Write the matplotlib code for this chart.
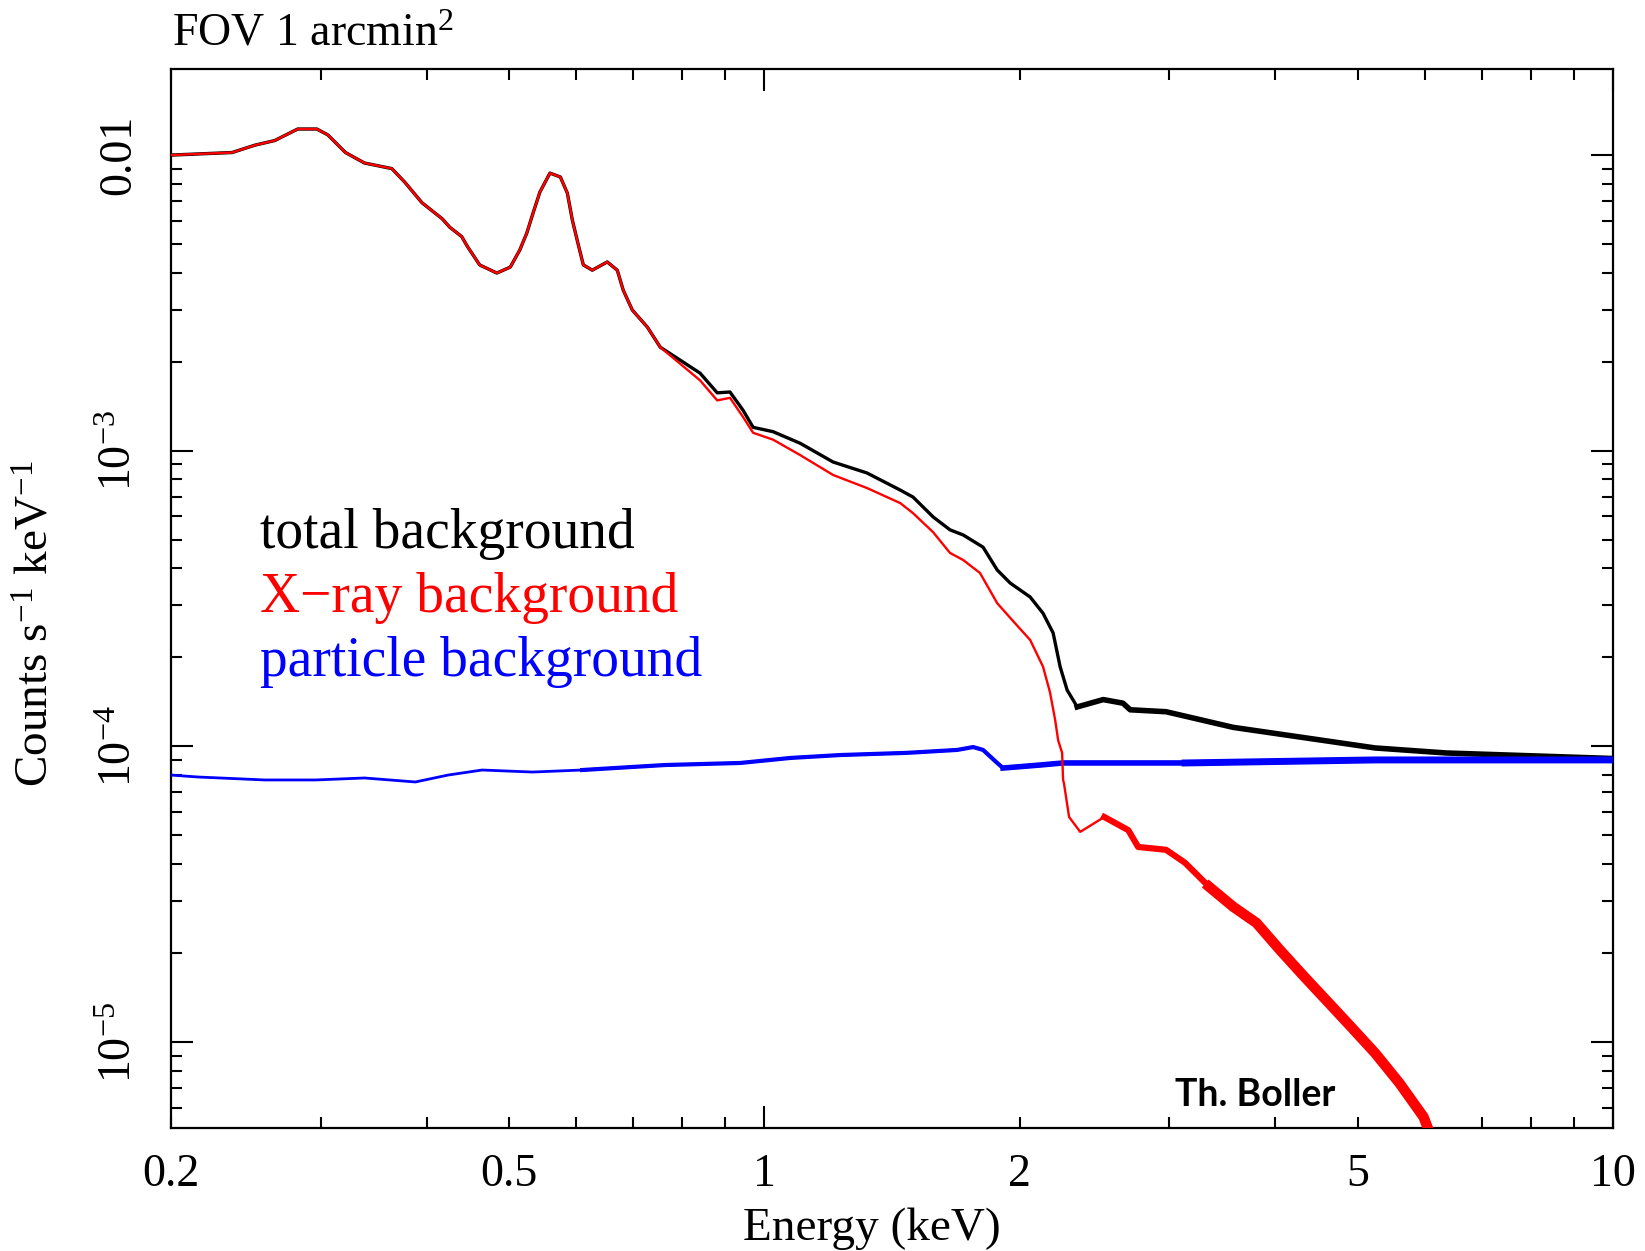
#!/usr/bin/env python3
"""
plot.py - eROSITA-like background spectrum: total, X-ray and particle background
"""

import matplotlib
matplotlib.use('Agg')
import matplotlib.pyplot as plt
from matplotlib.ticker import FixedLocator, FuncFormatter, NullFormatter

plt.rcParams['font.family'] = ['Liberation Serif', 'DejaVu Serif']
plt.rcParams['mathtext.fontset'] = 'custom'
plt.rcParams['mathtext.rm'] = 'Liberation Serif'
plt.rcParams['mathtext.default'] = 'regular'

# --- data (energy in keV, counts s^-1 keV^-1) ---
# total background
total_e = [0.200, 0.236, 0.251, 0.265, 0.282, 0.297, 0.306, 0.321, 0.338, 0.364,
           0.377, 0.395, 0.417, 0.426, 0.440, 0.447, 0.462, 0.484, 0.502, 0.515,
           0.525, 0.534, 0.544, 0.559, 0.575, 0.586, 0.594, 0.603, 0.612, 0.627,
           0.653, 0.671, 0.682, 0.699, 0.728, 0.754, 0.840, 0.880, 0.911, 0.944,
           0.970, 1.024, 1.102, 1.205, 1.321, 1.446, 1.497, 1.581, 1.655, 1.715,
           1.810, 1.881, 1.948, 2.057, 2.130, 2.189, 2.231, 2.274, 2.337, 2.508,
           2.646, 2.698, 2.974, 3.567, 4.330, 5.243, 6.360, 10.0]
total_v = [1.00e-2, 1.02e-2, 1.08e-2, 1.12e-2, 1.225e-2, 1.225e-2, 1.17e-2, 1.02e-2, 9.4e-3, 9.0e-3,
           8.1e-3, 6.9e-3, 6.1e-3, 5.7e-3, 5.3e-3, 4.9e-3, 4.25e-3, 3.99e-3, 4.18e-3, 4.77e-3,
           5.45e-3, 6.37e-3, 7.50e-3, 8.69e-3, 8.43e-3, 7.44e-3, 6.03e-3, 5.04e-3, 4.25e-3, 4.08e-3,
           4.35e-3, 4.08e-3, 3.49e-3, 2.99e-3, 2.62e-3, 2.24e-3, 1.83e-3, 1.57e-3, 1.58e-3, 1.37e-3,
           1.20e-3, 1.16e-3, 1.06e-3, 9.16e-4, 8.41e-4, 7.36e-4, 6.97e-4, 5.97e-4, 5.40e-4, 5.19e-4,
           4.72e-4, 3.95e-4, 3.57e-4, 3.20e-4, 2.82e-4, 2.42e-4, 1.86e-4, 1.55e-4, 1.36e-4, 1.44e-4,
           1.40e-4, 1.33e-4, 1.31e-4, 1.16e-4, 1.07e-4, 9.88e-5, 9.50e-5, 9.10e-5]

# X-ray background
xray_e = [0.200, 0.236, 0.251, 0.265, 0.282, 0.297, 0.306, 0.321, 0.338, 0.364,
          0.377, 0.395, 0.417, 0.426, 0.440, 0.447, 0.462, 0.484, 0.502, 0.515,
          0.525, 0.534, 0.544, 0.559, 0.575, 0.586, 0.594, 0.603, 0.612, 0.627,
          0.653, 0.671, 0.682, 0.699, 0.728, 0.754, 0.840, 0.880, 0.911, 0.944,
          0.970, 1.024, 1.102, 1.205, 1.321, 1.446, 1.497, 1.581, 1.655, 1.715,
          1.795, 1.881, 1.960, 2.057, 2.130, 2.171, 2.201, 2.219, 2.243, 2.249,
          2.254, 2.286, 2.356, 2.515, 2.684, 2.757, 2.974, 3.131, 3.343, 3.567,
          3.800, 4.050, 4.330, 4.620, 4.920, 5.243, 5.600, 5.980, 6.250]
xray_v = [1.00e-2, 1.02e-2, 1.08e-2, 1.12e-2, 1.225e-2, 1.225e-2, 1.17e-2, 1.02e-2, 9.4e-3, 9.0e-3,
          8.1e-3, 6.9e-3, 6.1e-3, 5.7e-3, 5.3e-3, 4.9e-3, 4.25e-3, 3.99e-3, 4.18e-3, 4.77e-3,
          5.45e-3, 6.37e-3, 7.50e-3, 8.69e-3, 8.43e-3, 7.44e-3, 6.03e-3, 5.04e-3, 4.25e-3, 4.08e-3,
          4.35e-3, 4.08e-3, 3.49e-3, 2.99e-3, 2.62e-3, 2.24e-3, 1.73e-3, 1.48e-3, 1.51e-3, 1.30e-3,
          1.15e-3, 1.09e-3, 9.67e-4, 8.28e-4, 7.48e-4, 6.65e-4, 6.15e-4, 5.30e-4, 4.51e-4, 4.27e-4,
          3.86e-4, 3.05e-4, 2.67e-4, 2.29e-4, 1.86e-4, 1.52e-4, 1.23e-4, 1.05e-4, 9.51e-5, 7.70e-5,
          7.52e-5, 5.77e-5, 5.14e-5, 5.77e-5, 5.21e-5, 4.57e-5, 4.47e-5, 4.04e-5, 3.35e-5, 2.87e-5,
          2.53e-5, 2.05e-5, 1.66e-5, 1.36e-5, 1.12e-5, 9.18e-6, 7.27e-6, 5.58e-6, 4.00e-6]

# particle background
part_e = [0.200, 0.215, 0.258, 0.296, 0.338, 0.388, 0.424, 0.465, 0.533, 0.610,
          0.699, 0.764, 0.937, 1.073, 1.229, 1.473, 1.688, 1.762, 1.810, 1.881,
          1.911, 2.113, 2.249, 2.698, 3.131, 5.243, 10.0]
part_v = [8.00e-5, 7.88e-5, 7.70e-5, 7.70e-5, 7.82e-5, 7.58e-5, 8.00e-5, 8.32e-5, 8.19e-5, 8.32e-5,
          8.52e-5, 8.65e-5, 8.79e-5, 9.14e-5, 9.35e-5, 9.51e-5, 9.73e-5, 9.95e-5, 9.73e-5, 8.79e-5,
          8.45e-5, 8.65e-5, 8.79e-5, 8.79e-5, 8.79e-5, 9.00e-5, 9.00e-5]

x_labels = {0.2: '0.2', 0.5: '0.5', 1: '1', 2: '2', 5: '5', 10: '10'}
y_ticks = [1e-5, 1e-4, 1e-3, 1e-2]
y_labels = ['$10^{-5}$', '$10^{-4}$', '$10^{-3}$', '0.01']


def plot_from(e, v, start, **kw):
    # overplot the part of a spectrum above `start` keV (noisy part looks thicker)
    idx = [i for i, x in enumerate(e) if x >= start]
    ax.plot([e[i] for i in idx], [v[i] for i in idx], **kw)


fig = plt.figure(figsize=(16.45, 12.51), dpi=100)
ax = fig.add_axes([0.1040, 0.0983, 0.8766, 0.8465])

# total background (under the others)
ax.plot(total_e, total_v, color='black', lw=2.4, zorder=2)
plot_from(total_e, total_v, 2.3, color='black', lw=4.0, zorder=2)

# particle background (drawn over the total one at high energy)
ax.plot(part_e, part_v, color='blue', lw=2.0, solid_joinstyle='round', zorder=3)
plot_from(part_e, part_v, 0.6, color='blue', lw=3.0, zorder=3)
plot_from(part_e, part_v, 1.9, color='blue', lw=4.0, zorder=3)
plot_from(part_e, part_v, 3.1, color='blue', lw=5.0, zorder=3)

# X-ray background on top
ax.plot(xray_e, xray_v, color='red', lw=1.7, zorder=4)
plot_from(xray_e, xray_v, 2.5, color='red', lw=4.5, zorder=4)
plot_from(xray_e, xray_v, 3.3, color='red', lw=7.5, zorder=4)

ax.set_xscale('log')
ax.set_yscale('log')
ax.set_xlim(0.2, 10)
ax.set_ylim(5.12e-6, 1.954e-2)

# x: long ticks at decades, short ones in between; labels at 0.2, 0.5, 1, 2, 5, 10
ax.xaxis.set_major_locator(FixedLocator([1, 10]))
ax.xaxis.set_minor_locator(FixedLocator([0.2, 0.3, 0.4, 0.5, 0.6, 0.7, 0.8, 0.9,
                                         2, 3, 4, 5, 6, 7, 8, 9]))
fmt = FuncFormatter(lambda v, p: x_labels.get(round(v, 3), ''))
ax.xaxis.set_major_formatter(fmt)
ax.xaxis.set_minor_formatter(fmt)

ax.yaxis.set_major_locator(FixedLocator(y_ticks))
ax.set_yticklabels(y_labels, rotation=90, va='center')
ax.yaxis.set_minor_locator(FixedLocator([m * d for d in [1e-6, 1e-5, 1e-4, 1e-3, 1e-2]
                                         for m in range(2, 10)]))
ax.yaxis.set_minor_formatter(NullFormatter())

ax.tick_params(which='both', direction='in', top=True, right=True, width=1.5,
               labelsize=33, color='black')
ax.tick_params(which='major', length=16)
ax.tick_params(which='minor', length=8)
ax.tick_params(axis='x', which='both', pad=18)
ax.tick_params(axis='y', which='both', pad=22)
for s in ax.spines.values():
    s.set_linewidth(1.6)

ax.set_xlabel('Energy (keV)', fontsize=34)
ax.xaxis.set_label_coords(0.486, -0.0746)
ax.xaxis.label.set_va('top')
ax.set_ylabel('Counts s$^{-1}$ keV$^{-1}$', fontsize=34)
ax.yaxis.set_label_coords(-0.0784, 0.476)

fig.text(0.1045, 0.964, 'FOV 1 arcmin$^{2}$', fontsize=33, va='baseline')

fig.text(0.158, 0.5620, 'total background', fontsize=40, color='black', va='baseline')
fig.text(0.158, 0.5108, 'X\u2212ray background', fontsize=40, color='red', va='baseline')
fig.text(0.158, 0.4596, 'particle background', fontsize=40, color='blue', va='baseline')

fig.text(0.7143, 0.1159, 'Th. Boller', fontsize=27, fontweight='bold',
         family=['Lato', 'DejaVu Sans'], va='baseline')

fig.savefig('out.png', dpi=100)
print("Saved out.png")
